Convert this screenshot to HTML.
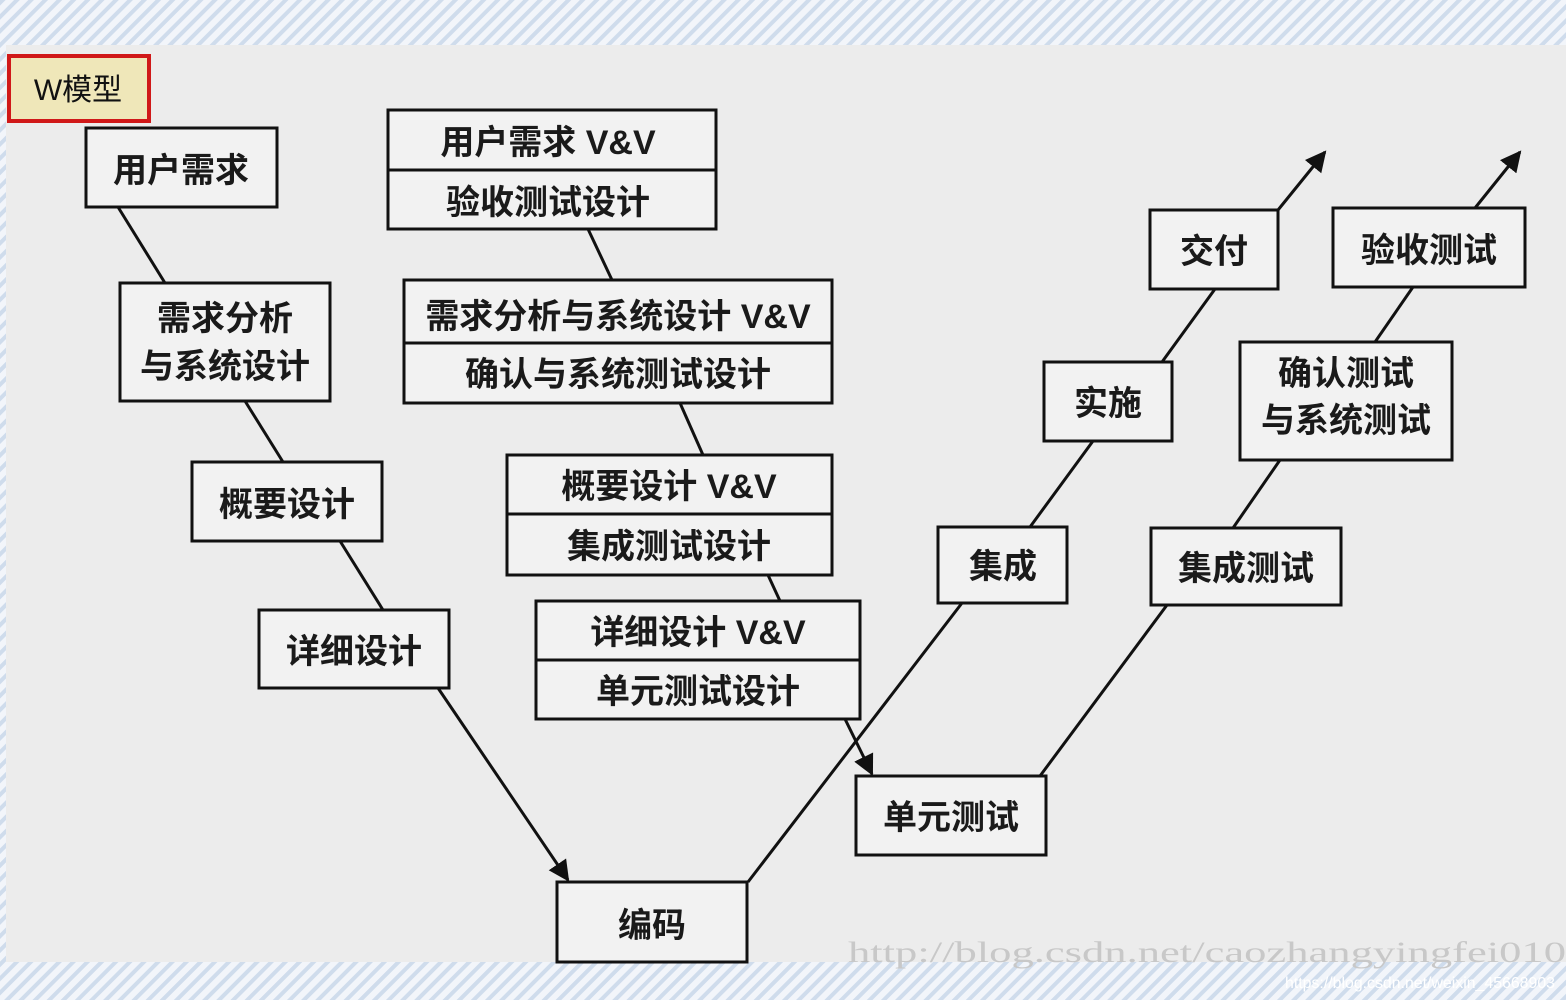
<!DOCTYPE html>
<html><head><meta charset="utf-8"><style>
html,body{margin:0;padding:0;width:1566px;height:1000px;overflow:hidden;background:#fff}
svg text{font-family:"Liberation Sans","Noto Sans CJK SC",sans-serif;font-weight:bold;fill:#1a1a1a}
</style></head><body>
<svg width="1566" height="1000" xmlns="http://www.w3.org/2000/svg">
<defs>
<pattern id="st" width="10" height="10" patternUnits="userSpaceOnUse" patternTransform="rotate(45)">
<rect width="10" height="10" fill="#f2f5fa"/><rect width="4" height="10" fill="#cfdcec"/></pattern>
<marker id="ar" viewBox="0 0 10 10" refX="9" refY="5" markerWidth="7" markerHeight="7" orient="auto"><path d="M0,0L10,5L0,10z" fill="#111"/></marker>
</defs>
<rect width="1566" height="1000" fill="url(#st)"/>
<rect x="6" y="45" width="1560" height="917" fill="#ececec"/>
<text x="1285" y="988" font-size="16" textLength="270" lengthAdjust="spacingAndGlyphs" style="fill:#fff;font-weight:normal">https://blog.csdn.net/weixin_45668903</text>
<text x="848" y="962" font-size="30" textLength="718" lengthAdjust="spacingAndGlyphs" style="fill:#c8c8c8;font-weight:normal;font-family:'Liberation Serif',serif">http://blog.csdn.net/caozhangyingfei010</text>
<g stroke="#111" stroke-width="3" fill="none">
<line x1="118" y1="207" x2="165" y2="283"/>
<line x1="245" y1="401" x2="283" y2="462"/>
<line x1="340" y1="541" x2="383" y2="610"/>
<line x1="438" y1="688" x2="568" y2="880" marker-end="url(#ar)"/>
<line x1="748" y1="882" x2="962" y2="603"/>
<line x1="1030" y1="527" x2="1093" y2="441"/>
<line x1="1162" y1="362" x2="1215" y2="289"/>
<line x1="1278" y1="210" x2="1325" y2="152" marker-end="url(#ar)"/>
<line x1="588" y1="229" x2="612" y2="280"/>
<line x1="680" y1="403" x2="703" y2="455"/>
<line x1="768" y1="575" x2="780" y2="601"/>
<line x1="845" y1="719" x2="872" y2="774" marker-end="url(#ar)"/>
<line x1="1040" y1="776" x2="1167" y2="605"/>
<line x1="1233" y1="528" x2="1280" y2="460"/>
<line x1="1375" y1="342" x2="1413" y2="287"/>
<line x1="1475" y1="208" x2="1520" y2="152" marker-end="url(#ar)"/>
</g>
<g stroke="#111" stroke-width="3" fill="#f2f2f2">
<rect x="86" y="128" width="191" height="79"/>
<rect x="120" y="283" width="210" height="118"/>
<rect x="192" y="462" width="190" height="79"/>
<rect x="259" y="610" width="190" height="78"/>
<rect x="557" y="882" width="190" height="80"/>
<rect x="388" y="110" width="328" height="119"/><line x1="388" y1="170" x2="716" y2="170"/>
<rect x="404" y="280" width="428" height="123"/><line x1="404" y1="343" x2="832" y2="343"/>
<rect x="507" y="455" width="325" height="120"/><line x1="507" y1="514" x2="832" y2="514"/>
<rect x="536" y="601" width="324" height="118"/><line x1="536" y1="660" x2="860" y2="660"/>
<rect x="856" y="776" width="190" height="79"/>
<rect x="938" y="527" width="129" height="76"/>
<rect x="1044" y="362" width="128" height="79"/>
<rect x="1150" y="210" width="128" height="79"/>
<rect x="1151" y="528" width="190" height="77"/>
<rect x="1240" y="342" width="212" height="118"/>
<rect x="1333" y="208" width="192" height="79"/>
</g>
<rect x="9" y="56" width="140" height="65" fill="#efe7b9" stroke="#d01818" stroke-width="4"/>
<text x="78" y="100" font-size="30" text-anchor="middle" style="font-weight:normal;fill:#111">W模型</text>
<g font-size="34" text-anchor="middle">
<text x="181" y="182">用户需求</text>
<text x="225" y="330">需求分析</text>
<text x="225" y="378">与系统设计</text>
<text x="287" y="516">概要设计</text>
<text x="354" y="663">详细设计</text>
<text x="652" y="937">编码</text>
<text x="548" y="154">用户需求 V&amp;V</text>
<text x="548" y="214">验收测试设计</text>
<text x="618" y="328">需求分析与系统设计 V&amp;V</text>
<text x="618" y="386">确认与系统测试设计</text>
<text x="669" y="498">概要设计 V&amp;V</text>
<text x="669" y="558">集成测试设计</text>
<text x="698" y="644">详细设计 V&amp;V</text>
<text x="698" y="703">单元测试设计</text>
<text x="951" y="829">单元测试</text>
<text x="1003" y="578">集成</text>
<text x="1108" y="415">实施</text>
<text x="1214" y="263">交付</text>
<text x="1246" y="580">集成测试</text>
<text x="1346" y="385">确认测试</text>
<text x="1346" y="432">与系统测试</text>
<text x="1429" y="262">验收测试</text>
</g>
</svg>
</body></html>
